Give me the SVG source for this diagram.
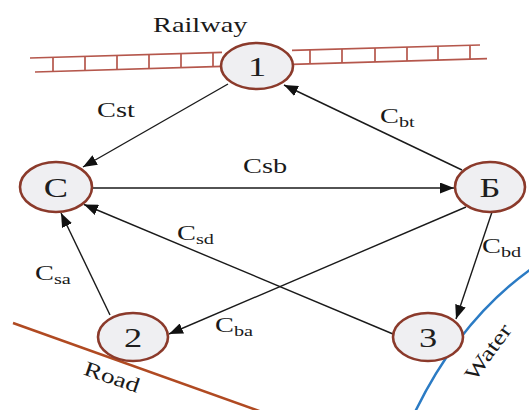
<svg xmlns="http://www.w3.org/2000/svg" width="529" height="410" viewBox="0 0 529 410">
  <defs>
    <marker id="arrow" markerWidth="14" markerHeight="11" refX="14" refY="5.5" orient="auto" markerUnits="userSpaceOnUse">
      <path d="M0,0 L14,5.5 L0,11 z" fill="#111"/>
    </marker>
  </defs>
  <style>
    .node ellipse { fill: #efeff2; stroke: #8b3a2b; stroke-width: 2.6; }
    .node text { font-family: "Liberation Serif", serif; font-size: 28px; fill: #1e1e1e; text-anchor: middle; }
    .edge { stroke: #1a1a1a; stroke-width: 1.4; fill: none; marker-end: url(#arrow); }
    .lbl { font-family: "Liberation Serif", serif; font-size: 21px; fill: #1a1a1a; }
    .sub { font-size: 15px; }
    .rail { stroke: #b5574c; stroke-width: 1.7; fill: none; }
  </style>

  <!-- surroundings: railway, road, water -->
  <g id="railway">
    <path class="rail" d="M30 58 L222 52.4 M35 72 L222 66.4 M292 50.4 L480 45 M292 64.4 L487 58.7"/>
    <path class="rail" d="M53 57.3 v14 M85 56.4 v14 M117 55.5 v14 M149 54.5 v14 M181 53.6 v14 M213 52.7 v14
                          M310 49.9 v14 M342 49 v14 M375 48 v14 M407 47.1 v14 M438 46.2 v14 M470 45.3 v14"/>
    <text class="lbl" transform="translate(153 32) scale(1.35 1)">Railway</text>
  </g>
  <g id="road">
    <path d="M13 323 L262 412" stroke="#b04a22" stroke-width="2.5" fill="none"/>
    <text class="lbl" text-anchor="middle" transform="translate(112 377) rotate(19) scale(1.3 1)" y="7">Road</text>
  </g>
  <g id="water">
    <path d="M415 412 Q460 320 531 269" stroke="#2b7bc4" stroke-width="2.5" fill="none"/>
    <text class="lbl" text-anchor="middle" transform="translate(488 352) rotate(-54) scale(1.3 1)" y="7">Water</text>
  </g>

  <!-- connectors -->
  <g id="connectors">
    <line class="edge" x1="228" y1="84" x2="83" y2="167"/>
    <line class="edge" x1="462" y1="170" x2="284" y2="85"/>
    <line class="edge" x1="92" y1="188" x2="454" y2="188"/>
    <line class="edge" x1="393" y1="334" x2="84" y2="204.5"/>
    <line class="edge" x1="466" y1="207" x2="169" y2="334"/>
    <line class="edge" x1="110" y1="315" x2="61" y2="213"/>
    <line class="edge" x1="492" y1="212" x2="456" y2="319"/>

    <text class="lbl" transform="translate(97 117) scale(1.35 1)">Cst</text>
    <text class="lbl" transform="translate(380 123) scale(1.35 1)">C<tspan class="sub" dy="4">bt</tspan></text>
    <text class="lbl" transform="translate(243 173) scale(1.35 1)">Csb</text>
    <text class="lbl" transform="translate(177 240) scale(1.35 1)">C<tspan class="sub" dy="4">sd</tspan></text>
    <text class="lbl" transform="translate(35 280) scale(1.35 1)">C<tspan class="sub" dy="4">sa</tspan></text>
    <text class="lbl" transform="translate(482 253) scale(1.35 1)">C<tspan class="sub" dy="4">bd</tspan></text>
    <text class="lbl" transform="translate(215 332) scale(1.35 1)">C<tspan class="sub" dy="4">ba</tspan></text>
  </g>

  <!-- nodes -->
  <g id="node-1" class="node">
    <ellipse cx="257" cy="66" rx="36" ry="23"/>
    <text transform="translate(257 76) scale(1.3 1)">1</text>
  </g>
  <g id="node-C" class="node">
    <ellipse cx="56" cy="187" rx="36" ry="25"/>
    <text transform="translate(56 197) scale(1.3 1)">C</text>
  </g>
  <g id="node-B" class="node">
    <ellipse cx="490" cy="187" rx="35" ry="25"/>
    <text transform="translate(490 197) scale(1.3 1)">Б</text>
  </g>
  <g id="node-2" class="node">
    <ellipse cx="133" cy="337" rx="35" ry="24"/>
    <text transform="translate(133 347) scale(1.3 1)">2</text>
  </g>
  <g id="node-3" class="node">
    <ellipse cx="428" cy="337" rx="35" ry="24"/>
    <text transform="translate(428 347) scale(1.3 1)">3</text>
  </g>
</svg>
